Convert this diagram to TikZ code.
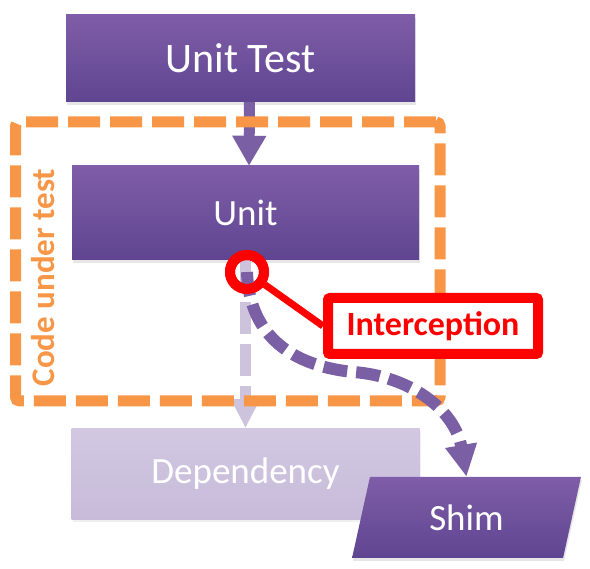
\documentclass[tikz,border=0pt]{standalone}
\usepackage{fontspec}
\setmainfont{Carlito}
\usetikzlibrary{positioning,arrows.meta,shapes.geometric,shadows}

\definecolor{boxtop}{HTML}{7F5DA8}
\definecolor{boxbot}{HTML}{5F4591}
\definecolor{lilactop}{HTML}{D2C8E2}
\definecolor{lilacbot}{HTML}{C7BBD9}
\definecolor{plum}{HTML}{7A5FA5}
\definecolor{paleplum}{HTML}{CDC3DC}
\definecolor{tangerine}{HTML}{F79646}

\tikzset{
  box/.style={rectangle, top color=boxtop, bottom color=boxbot, text=white,
    drop shadow={shadow xshift=1pt, shadow yshift=-3pt, opacity=0.2}},
  ghostbox/.style={rectangle, top color=lilactop, bottom color=lilacbot, text=white,
    drop shadow={shadow xshift=1pt, shadow yshift=-3pt, opacity=0.12}},
  frame/.style={draw=tangerine, line width=11pt, dash pattern=on 32pt off 10pt,
    rounded corners=4pt},
  callout/.style={draw=red, fill=white, line width=10pt, rounded corners=2pt,
    text=red, font=\fontsize{34}{40}\selectfont\bfseries},
  hookring/.style={circle, draw=red, line width=10pt, minimum size=34pt, inner sep=0pt},
}

\begin{document}
\begin{tikzpicture}[x=1pt,y=1pt]
  \useasboundingbox (0,0) rectangle (590,-569);

  \node (unit) [box, minimum width=347pt, minimum height=94pt,
    font=\fontsize{37}{44}\selectfont] at (245.5,-213) {Unit};
  \node (unittest) [box, above=64pt of unit, xshift=-5pt, minimum width=349pt,
    minimum height=87pt, font=\fontsize{42}{50}\selectfont] {Unit Test};
  \node (dep) [ghostbox, below=168pt of unit, minimum width=348pt, minimum height=91pt,
    font=\fontsize{37}{44}\selectfont] {Dependency};
  \node (shim) [trapezium, trapezium left angle=77, trapezium right angle=103,
    trapezium stretches=true, minimum width=231pt, minimum height=81pt,
    top color=boxtop, bottom color=boxbot, text=white,
    drop shadow={shadow xshift=1pt, shadow yshift=-3pt, opacity=0.2},
    font=\fontsize{37}{44}\selectfont] at (466.5,-517.5) {Shim};

  \draw[paleplum, line width=11pt, dash pattern=on 32pt off 10pt,
    -{Triangle[width=27pt,length=29pt]}] (unit.south) -- (dep.north);
  \draw[plum, line width=11pt, -{Triangle[width=32pt,length=30pt]}]
    ([xshift=9pt]unittest.south) -- ([xshift=3.5pt]unit.north);

  \node (cut) [frame, minimum width=424.5pt, minimum height=279pt] at (227.75,-261.5) {};
  \node (cutlabel) [rotate=90, text=tangerine, font=\fontsize{33}{38}\selectfont\bfseries]
    at (43,-277.5) {Code under test};

  \node (hook) [hookring] at (247,-272) {};
  \coordinate (bend) at (353,-372);
  \draw[plum, line width=12pt, dash pattern=on 24pt off 9pt,
    -{Triangle[width=30pt,length=32pt]}]
    (hook.center) .. controls (249,-330) and (285,-365) .. (bend)
    .. controls (410,-376) and (455,-410) .. (shim.north);

  \node (intercept) [callout, minimum width=210pt, minimum height=56pt] at (433,-326)
    {Interception};
  \draw[red, line width=7pt] (hook) -- (intercept.west);
  \node [hookring] at (hook) {};
\end{tikzpicture}
\end{document}
